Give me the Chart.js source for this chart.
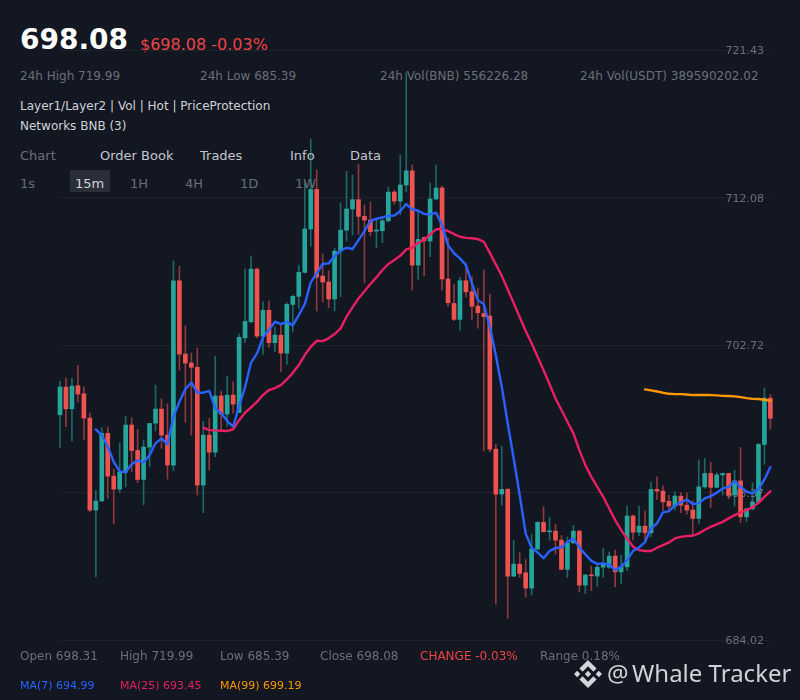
<!DOCTYPE html>
<html>
<head>
<meta charset="utf-8">
<script src="https://cdn.jsdelivr.net/npm/chart.js@4"></script>
<style>
html,body{margin:0;padding:0;background:#131722;width:800px;height:700px;overflow:hidden}
#wrap{position:relative;width:800px;height:700px;font-family:"DejaVu Sans",sans-serif}
.t{position:absolute;white-space:nowrap;height:20px;line-height:20px}
.g{color:#6b6f7a;font-size:12px}
.l{color:#cfd2d9;font-size:12px}
.tab{color:#c3c6ce;font-size:13px}
.tf{color:#6b6f7a;font-size:13px}
#c{position:absolute;left:0;top:0}
</style>
</head>
<body>
<div id="wrap">
<div class="t" style="left:20px;top:30px;font-size:28px;font-weight:700;color:#fff">698.08</div>
<div class="t" style="left:140px;top:35px;font-size:16px;color:#ef4444">$698.08 -0.03%</div>
<div class="t g" style="left:20px;top:66px">24h High 719.99</div>
<div class="t g" style="left:200px;top:66px">24h Low 685.39</div>
<div class="t g" style="left:380px;top:66px">24h Vol(BNB) 556226.28</div>
<div class="t g" style="left:580px;top:66px">24h Vol(USDT) 389590202.02</div>
<div class="t l" style="left:20px;top:96px">Layer1/Layer2 | Vol | Hot | PriceProtection</div>
<div class="t l" style="left:20px;top:116px">Networks BNB (3)</div>
<div class="t tab" style="left:20px;top:146px;color:#6b6f7a">Chart</div>
<div class="t tab" style="left:100px;top:146px">Order Book</div>
<div class="t tab" style="left:200px;top:146px">Trades</div>
<div class="t tab" style="left:290px;top:146px">Info</div>
<div class="t tab" style="left:350px;top:146px">Data</div>
<div class="t tf" style="left:20px;top:174px">1s</div>
<div style="position:absolute;left:70px;top:170px;width:40px;height:22px;background:#2a2e39"></div>
<div class="t tf" style="left:75px;top:174px;color:#d1d4dc">15m</div>
<div class="t tf" style="left:130px;top:174px">1H</div>
<div class="t tf" style="left:185px;top:174px">4H</div>
<div class="t tf" style="left:240px;top:174px">1D</div>
<div class="t tf" style="left:295px;top:174px">1W</div>
<canvas id="c" width="800" height="700" style="width:800px;height:700px"></canvas>
<div class="t g" style="left:20px;top:646px">Open 698.31</div>
<div class="t g" style="left:120px;top:646px">High 719.99</div>
<div class="t g" style="left:220px;top:646px">Low 685.39</div>
<div class="t g" style="left:320px;top:646px">Close 698.08</div>
<div class="t" style="left:420px;top:646px;font-size:12px;color:#ef4444">CHANGE -0.03%</div>
<div class="t g" style="left:540px;top:646px">Range 0.18%</div>
<div class="t" style="left:20px;top:676px;font-size:11px;color:#2962ff">MA(7) 694.99</div>
<div class="t" style="left:120px;top:676px;font-size:11px;color:#e91e63">MA(25) 693.45</div>
<div class="t" style="left:220px;top:676px;font-size:11px;color:#ff9800">MA(99) 699.19</div>
<svg style="position:absolute;left:574px;top:660px" width="28" height="28" viewBox="0 0 24 24"><path fill="#d3d5da" d="M16.624 13.9202l2.7175 2.7154-7.353 7.353-7.353-7.352 2.7175-2.7164 4.6355 4.6595 4.6356-4.6595zm4.6366-4.6366L24 12l-2.7154 2.7164L18.5682 12l2.6924-2.7164zm-9.272.001l2.7163 2.6914-2.7164 2.7174v-.001L9.2721 12l2.7164-2.7154zm-9.2722-.001L5.4088 12l-2.6914 2.6924L0 12l2.7164-2.7164zM11.9885.0115l7.353 7.329-2.7174 2.7154-4.6356-4.6356-4.6355 4.6595-2.7174-2.7154 7.353-7.353z"/></svg>
<div class="t" style="left:607px;top:661px;height:24px;line-height:24px;font-size:24px;font-family:'Noto Sans';color:#cfd2d8">@</div>
<div class="t" style="left:632px;top:661px;height:24px;line-height:24px;font-size:24px;font-family:'Noto Sans';color:#cfd2d8">Whale Tracker</div>
</div>
<script>
const tickLabels = [721.43, 712.08, 702.72, 693.37, 684.02];

const opens = [698.30,700.06,698.68,700.14,699.63,698.09,692.26,692.83,697.12,694.41,693.59,694.67,697.65,696.04,694.20,696.25,697.77,698.66,697.01,695.11,
706.80,702.15,701.58,701.31,693.84,697.01,695.93,699.50,698.34,699.55,698.45,703.18,704.20,707.54,703.29,704.92,702.87,703.35,702.21,705.30,
705.81,707.33,710.08,712.59,707.10,706.72,705.64,708.68,710.01,711.35,711.94,710.88,710.65,709.95,709.97,710.60,712.42,711.85,712.87,713.77,
707.79,709.54,709.32,711.98,712.68,706.91,705.36,704.35,706.80,706.10,705.19,704.73,704.56,696.12,693.27,693.57,688.07,688.83,688.28,687.31,
689.78,691.48,690.88,690.92,690.35,688.50,690.18,690.92,687.50,688.13,688.07,688.64,688.64,689.34,688.34,688.66,691.88,690.86,691.24,690.82,
693.57,693.46,692.81,692.51,693.14,692.57,692.26,691.73,693.73,694.58,693.70,694.49,694.58,693.21,694.11,691.83,692.34,692.78,696.42,699.36];
const closes = [700.06,698.68,700.12,699.61,698.09,692.26,692.83,697.12,694.41,693.59,694.67,697.65,696.04,694.20,696.25,697.75,698.66,697.01,695.11,706.80,
702.15,701.58,701.31,693.84,697.01,695.93,699.49,698.34,699.55,698.98,703.21,704.22,707.54,703.29,704.92,702.87,703.35,702.21,705.30,705.81,
707.33,710.08,712.59,707.03,706.72,705.64,708.68,710.01,711.35,711.94,710.88,710.65,709.91,709.99,710.60,712.42,711.85,712.87,713.77,707.79,
709.42,709.32,711.98,712.68,706.91,705.40,704.35,706.80,706.10,705.19,704.77,704.52,696.12,693.27,693.57,688.07,688.83,688.24,687.31,689.78,
691.48,690.88,690.91,690.35,688.50,690.18,690.92,687.50,688.15,688.09,688.64,688.88,689.34,688.34,688.66,691.88,690.86,691.24,690.82,693.57,
693.46,692.78,692.51,693.14,692.57,692.26,691.73,693.73,694.58,693.70,694.49,694.58,693.19,694.11,691.83,692.34,692.78,696.42,699.36,698.08];
const highs = [700.42,700.63,700.61,701.43,700.08,698.41,693.51,697.48,697.52,694.84,696.52,698.20,698.09,697.37,696.70,697.75,700.18,699.30,699.00,708.05,
707.73,703.94,702.21,702.53,697.88,698.07,702.00,699.80,700.76,700.39,703.42,707.54,708.36,707.60,705.47,705.51,703.86,703.99,705.40,705.89,
707.79,712.99,715.78,713.82,708.49,707.43,708.87,711.74,713.74,713.50,714.18,711.60,711.79,710.65,710.71,712.74,712.55,714.77,719.99,714.14,
711.28,709.59,712.99,714.14,712.80,709.51,706.57,707.01,707.92,707.05,706.34,707.48,705.95,696.42,696.31,693.65,690.35,689.55,689.13,690.73,
691.51,692.47,691.79,691.37,690.65,690.56,691.29,690.99,688.15,688.70,688.88,689.83,689.59,689.72,689.40,692.51,691.96,692.51,692.21,694.01,
694.37,693.78,693.19,693.42,693.35,693.35,692.85,695.43,695.53,695.30,694.62,694.60,694.60,694.79,696.23,692.38,693.99,696.49,699.97,699.59];
const lows = [696.23,697.54,696.65,699.11,696.74,692.15,688.03,692.83,693.00,691.39,693.35,693.73,694.68,693.99,692.59,695.00,697.27,696.17,694.22,694.75,
701.13,697.82,697.01,693.21,692.09,694.79,695.64,697.33,697.58,698.41,698.45,702.87,704.12,703.18,702.13,702.57,702.30,701.03,701.50,703.54,
705.05,707.29,709.00,704.88,705.45,705.09,704.88,705.78,709.32,709.70,709.74,706.67,709.63,708.89,709.21,710.52,711.66,710.98,712.44,706.21,
706.89,707.10,708.32,711.92,706.21,705.15,704.26,703.67,705.78,704.35,703.80,696.02,695.95,686.29,692.57,685.39,688.03,687.99,686.72,686.87,
689.78,690.88,690.35,689.47,688.50,687.99,690.14,687.07,686.97,687.14,687.44,687.99,688.56,687.39,687.61,688.41,690.35,690.63,690.40,690.56,
692.93,692.26,692.30,692.26,692.09,692.00,690.65,691.41,693.63,692.43,693.67,693.21,692.97,692.51,691.45,691.54,692.26,692.74,695.17,697.39];

const ma7 = [697.37,697.01,696.27,695.32,694.71,694.65,695.17,695.41,695.28,695.74,696.49,696.80,696.42,698.17,699.12,699.93,700.35,699.70,699.70,699.82,
698.71,698.39,697.92,697.54,698.85,700.06,701.61,702.19,703.20,703.67,704.20,704.05,704.20,703.97,704.62,705.32,706.70,707.27,707.86,707.90,
708.36,708.70,708.89,708.81,709.38,709.95,710.60,710.73,710.82,710.92,710.93,711.22,711.66,711.33,711.24,711.03,711.01,711.11,710.33,709.06,
708.54,708.22,707.79,706.63,705.57,705.30,703.88,702.09,700.08,697.75,695.53,693.21,690.78,689.87,689.57,689.21,689.67,689.85,689.89,690.25,
690.44,689.89,689.45,689.04,688.85,688.88,688.81,688.45,688.66,689.09,689.67,689.89,690.23,691.10,691.41,692.11,692.19,692.55,692.74,692.93,
692.64,692.68,693.00,693.14,693.35,693.63,693.73,694.08,693.73,693.42,693.32,693.57,694.20,694.99];
const ma25 = [697.48,697.33,697.31,697.29,697.27,697.37,697.96,698.43,698.77,699.12,699.55,699.87,699.99,700.18,700.54,700.96,701.45,702.09,702.61,702.99,
702.97,703.15,703.42,703.78,704.52,705.11,705.68,706.14,706.59,707.01,707.48,707.86,708.11,708.38,708.79,708.89,709.21,709.38,709.74,710.06,
710.08,709.95,709.76,709.59,709.52,709.49,709.44,709.27,708.57,707.84,707.12,706.25,705.38,704.50,703.63,702.83,701.98,701.13,700.25,699.34,
698.60,697.86,697.12,696.06,695.11,694.37,693.73,693.10,692.36,691.62,690.99,690.46,689.93,689.72,689.66,689.66,689.87,690.04,690.21,690.46,
690.56,690.61,690.63,690.78,690.99,691.20,691.35,691.51,691.73,691.94,692.09,692.26,692.43,692.72,693.10,693.45];
const ma99 = [699.91,699.85,699.78,699.70,699.63,699.61,699.61,699.59,699.55,699.55,699.55,699.55,699.53,699.50,699.49,699.47,699.42,699.36,699.31,699.30,699.25,699.19];

const categories = opens.map((_, i) => String(i));
const UP = '#26a69a', DOWN = '#ef5350';
const colorOf = i => closes[i] >= opens[i] ? UP : DOWN;
const pad = a => new Array(categories.length - a.length).fill(null).concat(a);
const lineSet = (data, color, order) => ({
  type: 'line', data: pad(data), borderColor: color, borderWidth: 2.4,
  pointRadius: 0, tension: 0, fill: false, order, clip: false,
  borderJoinStyle: 'round', borderCapStyle: 'round', spanGaps: false
});

new Chart(document.getElementById('c'), {
  type: 'bar',
  data: {
    labels: categories,
    datasets: [
      lineSet(ma99, '#ff9800', 1),
      lineSet(ma25, '#e91e63', 2),
      lineSet(ma7, '#2962ff', 0),
      { data: opens.map((o, i) => [o, closes[i]]), backgroundColor: categories.map((_, i) => colorOf(i)),
        barThickness: 4, grouped: false, order: 5, clip: false, minBarLength: 1 },
      { data: lows.map((l, i) => [l, highs[i]]), backgroundColor: categories.map((_, i) => colorOf(i) + '90'),
        barThickness: 1, grouped: false, order: 6, clip: false }
    ]
  },
  options: {
    responsive: false, animation: false, devicePixelRatio: 1,
    layout: { padding: { left: 60, right: 29.6, top: 50, bottom: 60 } },
    plugins: { legend: { display: false }, tooltip: { enabled: false } },
    scales: {
      x: { display: false, offset: false, grid: { display: false } },
      y: {
        position: 'right', min: 684.02, max: 721.43,
        afterFit: s => { s.width = 0; },
        afterBuildTicks: s => { s.ticks = tickLabels.map(v => ({ value: v })); },
        grid: { color: '#1e222d', lineWidth: 1, drawTicks: false, tickLength: 0 },
        border: { display: false },
        ticks: { mirror: true, padding: -6.4, labelOffset: 1.5, color: '#6b6f7a', autoSkip: false,
          font: { family: '"DejaVu Sans"', size: 11 },
          callback: v => v.toFixed(2) }
      }
    }
  }
});
</script>
</body>
</html>
